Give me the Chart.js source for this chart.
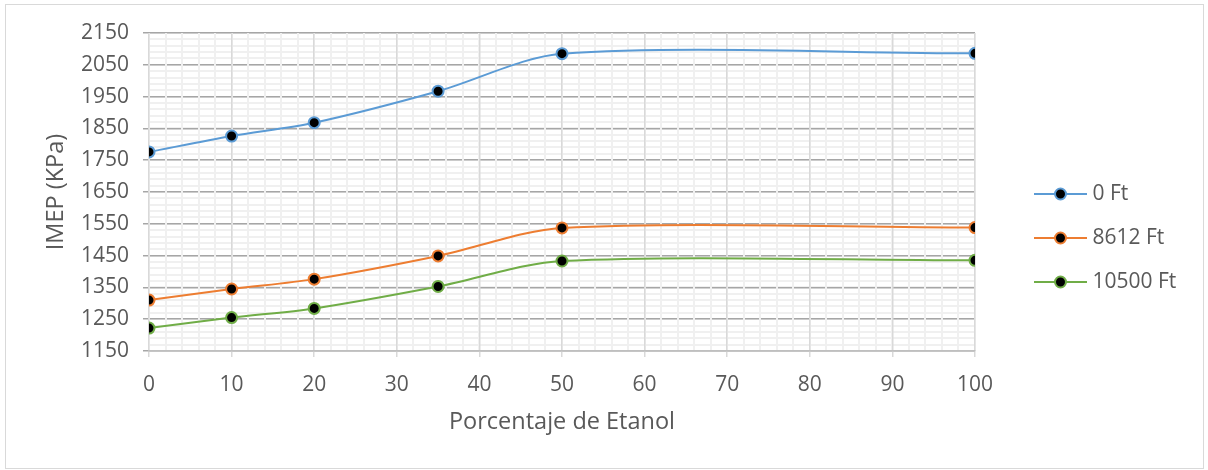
<!DOCTYPE html>
<html>
<head>
<meta charset="utf-8">
<script src="https://cdn.jsdelivr.net/npm/chart.js@4"></script>
<style>
  html, body { margin: 0; padding: 0; background: #fff; }
  #frame { position: absolute; left: 5px; top: 4px; width: 1197px; height: 463px; border: 1px solid #d9d9d9; }
  #wrap { position: absolute; left: 0; top: 0; width: 1208px; height: 470px; }
</style>
</head>
<body>
<div id="frame"></div>
<div id="wrap"><canvas id="imepChart" width="1208" height="470"></canvas></div>
<script>
// ---- data ----
const etanol = [0, 10, 20, 35, 50, 100];
const seriesNames = ["0 Ft", "8612 Ft", "10500 Ft"];
const imep0 = [1776, 1826, 1868, 1967, 2085, 2086];
const imep8612 = [1310, 1345, 1376, 1449, 1537, 1538];
const imep10500 = [1222, 1255, 1284, 1353, 1433, 1435];
const seriesColors = ["#5b9bd5", "#ed7d31", "#70ad47"];

const textColor = "#595959";
const fontFamily = "'Open Sans', sans-serif";

// legend symbol: short line with a dot (left part of the image is blank on purpose)
function legendIcon(color) {
  const c = document.createElement("canvas");
  c.width = 96; c.height = 16;
  const g = c.getContext("2d");
  g.strokeStyle = color;
  g.lineWidth = 2;
  g.beginPath(); g.moveTo(42, 8); g.lineTo(95, 8); g.stroke();
  g.beginPath(); g.arc(68.5, 8, 5.5, 0, Math.PI * 2);
  g.fillStyle = "#000"; g.fill();
  g.lineWidth = 2; g.stroke();
  return c;
}

function toPoints(values) {
  return etanol.map((x, i) => ({ x: x, y: values[i] }));
}

const allValues = [imep0, imep8612, imep10500];
const datasets = allValues.map((vals, i) => ({
  label: seriesNames[i],
  data: toPoints(vals),
  borderColor: seriesColors[i],
  borderWidth: 2,
  tension: 0.3,
  pointRadius: 5.5,
  pointHoverRadius: 5.5,
  pointBorderWidth: 2,
  pointBackgroundColor: "#000",
  pointBorderColor: seriesColors[i],
  fill: false
}));

// legend box is a bit too narrow for its last item, widen it
const legendWiden = {
  id: "legendWiden",
  beforeLayout(chart) {
    const lg = chart.legend;
    if (lg && !lg._widened) {
      const fit = lg.fit;
      lg.fit = function () { fit.call(this); this.width += 12; };
      lg._widened = true;
    }
  }
};

const ctx = document.getElementById("imepChart").getContext("2d");

// grid draw order: horizontal lines first, vertical lines over them
new Chart(ctx, {
  type: "line",
  data: { datasets },
  plugins: [legendWiden],
  options: {
    responsive: false,
    animation: false,
    layout: { padding: { left: 42, top: 33, right: 32, bottom: 27 } },
    plugins: {
      tooltip: { enabled: false },
      legend: {
        position: "right",
        labels: {
          color: textColor,
          font: { family: fontFamily, size: 21 },
          usePointStyle: true,
          pointStyleWidth: 84,
          padding: 23,
          generateLabels(chart) {
            const items = Chart.defaults.plugins.legend.labels.generateLabels(chart);
            items.forEach((it, i) => { it.pointStyle = legendIcon(seriesColors[i]); });
            return items;
          }
        }
      }
    },
    scales: {
      xMinor: {
        type: "linear", position: "bottom", min: 0, max: 100,
        ticks: { stepSize: 2, display: false },
        grid: { color: "#f0f0f0", lineWidth: 2, drawTicks: false, z: -2 },
        border: { display: false }
      },
      yMinor: {
        type: "linear", position: "left", min: 1150, max: 2150,
        ticks: { stepSize: 20, display: false },
        grid: { color: "#f0f0f0", lineWidth: 2, drawTicks: false, z: -4 },
        border: { display: false }
      },
      x: {
        type: "linear", position: "bottom", min: 0, max: 100,
        ticks: { stepSize: 10, color: textColor, font: { family: fontFamily, size: 21 }, padding: 15,
          callback: v => String(v) },
        grid: { color: "#d9d9d9", lineWidth: 1.5, tickLength: 6, z: -1 },
        border: { color: "#bfbfbf", width: 1.5 },
        title: {
          display: true, text: "Porcentaje de Etanol", color: textColor,
          font: { family: fontFamily, size: 23.5 }, padding: { top: 10, bottom: 7 }
        },
        afterFit(scale) { scale.height = 470 - 27 - 351; }
      },
      y: {
        type: "linear", position: "left", min: 1150, max: 2150,
        ticks: { stepSize: 100, color: textColor, font: { family: fontFamily, size: 21 }, padding: 14,
          callback: v => String(v) },
        grid: { color: "#a6a6a6", lineWidth: 1.5, tickLength: 6, z: -3 },
        border: { display: false },
        title: {
          display: true, text: "IMEP (KPa)", color: textColor,
          font: { family: fontFamily, size: 23.5 }, padding: 0
        },
        afterFit(scale) { scale.width = 149 - 42; }
      }
    }
  }
});
</script>
</body>
</html>
